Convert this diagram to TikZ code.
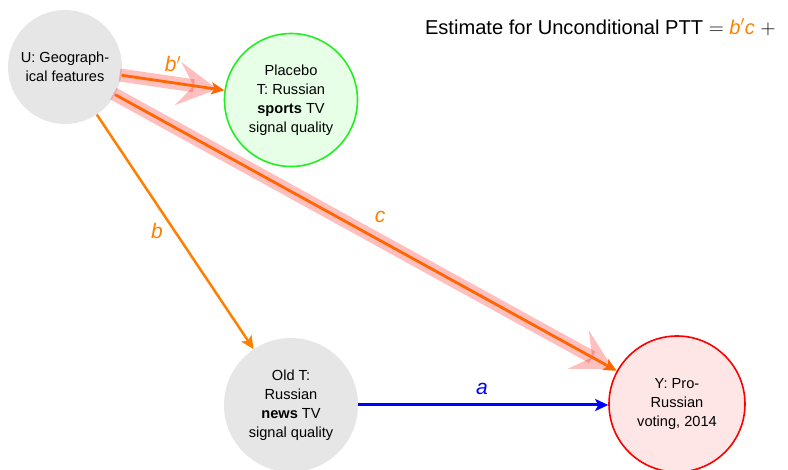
\documentclass[tikz,border=0pt]{standalone}
\usepackage{fontspec}
\setmainfont{Liberation Sans}
\usetikzlibrary{arrows.meta}
\definecolor{orA}{HTML}{FF6600}
\definecolor{orB}{HTML}{FF8000}
\definecolor{lab}{HTML}{FF8000}
\definecolor{grayfill}{HTML}{E6E6E6}
\definecolor{greenfill}{HTML}{E6FFE6}
\definecolor{greenline}{HTML}{22EE22}
\definecolor{redfill}{HTML}{FFE6E6}
\definecolor{blueline}{HTML}{0000FF}
\tikzset{
  vnode/.style={circle, align=center, font=\fontsize{14.6}{19}\selectfont, inner sep=0pt},
  gnode/.style={vnode, fill=grayfill},
  pnode/.style={vnode, fill=greenfill, draw=greenline, line width=1.6pt},
  ynode/.style={vnode, fill=redfill, draw=red, line width=1.6pt},
  hl/.style={draw=red, draw opacity=0.25, fill=red, fill opacity=0.25, line width=13pt,
    -{Stealth[length=40pt,width=44pt,inset=16pt,line width=0pt]}},
  orarrow/.style={draw=#1, line width=2.8pt, -{Stealth[length=13pt,width=12pt,inset=3pt]}},
  elabel/.style={font=\fontsize{21}{24}\selectfont\itshape},
}
\begin{document}
\begin{tikzpicture}[x=1pt,y=-1pt]
\useasboundingbox (0,0) rectangle (788,470);
\node[gnode, minimum size=114pt] (U) at (65,67) {U: Geograph-\\ical features};
\node[pnode, minimum size=133pt] (P) at (291,100) {Placebo\\T: Russian\\\textbf{sports} TV\\signal quality};
\node[gnode, minimum size=134pt] (O) at (291,405) {Old T:\\Russian\\\textbf{news} TV\\signal quality};
\node[ynode, minimum size=136pt] (Y) at (677,404) {Y: Pro-\\Russian\\voting, 2014};
% highlights
\draw[hl, shorten <=-2pt, shorten >=7pt] (U) -- (P);
\draw[hl, shorten <=-2pt, shorten >=4pt] (U) -- (Y);
% arrows
\draw[orarrow=orA] (U) -- (P);
\draw[orarrow=orA] (U) -- (Y);
\draw[orarrow=orB, line width=2.5pt] (U) -- (O);
\draw[orarrow=blueline, line width=3pt] (O.east) -- (O.east -| Y.west);
% labels
\node[elabel, text=lab] (lbp) at (173,64) {b$'$};
\node[elabel, text=lab] (lc) at (380,217) {c};
\node[elabel, text=lab] (lb) at (157,231) {b};
\node[elabel, text=blueline] (la) at (482,389) {a};
\node[font=\fontsize{20.1}{24}\selectfont, anchor=east] (title) at (779,27)
  {Estimate for Unconditional PTT $=$ \textcolor{lab}{\textit{b}$'$\textit{c}} $+$};
\end{tikzpicture}
\end{document}
